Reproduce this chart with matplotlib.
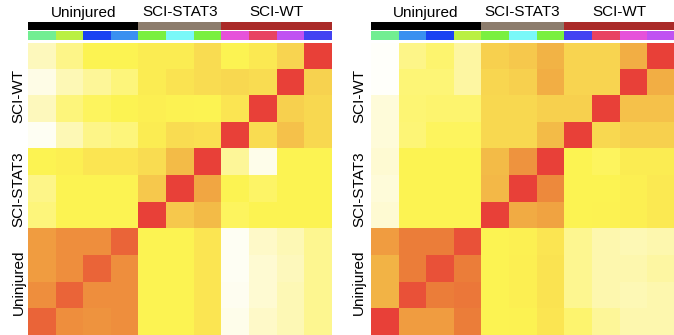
import numpy as np
import matplotlib
matplotlib.use("Agg")
import matplotlib.pyplot as plt
from matplotlib.colors import LinearSegmentedColormap, ListedColormap

plt.rcParams['font.family'] = ['Liberation Sans', 'DejaVu Sans']

# groups (left to right on top, bottom to top on the side)
groups = ["Uninjured", "SCI-STAT3", "SCI-WT"]
group_sizes = [4, 3, 4]
group_colors = ["#000000", "#8C7C6C", "#AA2A28"]

# per-sample colour strips
left_samples = ["#72EE92", "#BAF042", "#1A42F2", "#3A90F0",
                "#7AF040", "#7AF8F8", "#7AF040",
                "#E652DA", "#E84262", "#C052F2", "#4242F2"]
right_samples = ["#72EE92", "#3A90F0", "#1A42F2", "#BAF042",
                 "#7AF040", "#7AF8F8", "#7AF040",
                 "#4242F2", "#E84262", "#E652DA", "#C052F2"]

# similarity values, rows listed top to bottom
left_corr = [
    [0.18, 0.32, 0.45, 0.45, 0.50, 0.50, 0.60, 0.45, 0.52, 0.64, 1.00],
    [0.06, 0.20, 0.28, 0.35, 0.50, 0.56, 0.60, 0.62, 0.60, 1.00, 0.65],
    [0.18, 0.35, 0.42, 0.45, 0.48, 0.46, 0.45, 0.55, 1.00, 0.66, 0.62],
    [0.02, 0.20, 0.32, 0.35, 0.50, 0.60, 0.58, 1.00, 0.60, 0.70, 0.62],
    [0.45, 0.48, 0.55, 0.55, 0.60, 0.72, 1.00, 0.28, 0.05, 0.45, 0.45],
    [0.32, 0.45, 0.45, 0.45, 0.68, 1.00, 0.77, 0.45, 0.40, 0.45, 0.45],
    [0.35, 0.45, 0.45, 0.45, 1.00, 0.68, 0.72, 0.42, 0.45, 0.45, 0.45],
    [0.80, 0.83, 0.83, 0.92, 0.45, 0.45, 0.55, 0.02, 0.15, 0.20, 0.30],
    [0.80, 0.83, 0.92, 0.83, 0.45, 0.45, 0.55, 0.02, 0.12, 0.18, 0.30],
    [0.83, 0.92, 0.83, 0.83, 0.45, 0.45, 0.55, 0.03, 0.12, 0.20, 0.30],
    [0.92, 0.83, 0.82, 0.83, 0.45, 0.45, 0.55, 0.05, 0.15, 0.20, 0.30],
]
right_corr = [
    [0.00, 0.32, 0.38, 0.25, 0.66, 0.68, 0.74, 0.64, 0.64, 0.75, 1.00],
    [0.00, 0.36, 0.36, 0.25, 0.63, 0.66, 0.75, 0.64, 0.64, 1.00, 0.75],
    [0.10, 0.37, 0.38, 0.38, 0.62, 0.62, 0.66, 0.66, 1.00, 0.70, 0.70],
    [0.10, 0.36, 0.42, 0.42, 0.62, 0.62, 0.72, 1.00, 0.62, 0.66, 0.66],
    [0.12, 0.45, 0.45, 0.45, 0.72, 0.82, 1.00, 0.45, 0.42, 0.50, 0.50],
    [0.10, 0.45, 0.45, 0.45, 0.73, 1.00, 0.84, 0.45, 0.45, 0.48, 0.52],
    [0.12, 0.45, 0.45, 0.45, 1.00, 0.76, 0.78, 0.45, 0.46, 0.48, 0.52],
    [0.80, 0.87, 0.87, 0.96, 0.45, 0.47, 0.55, 0.30, 0.22, 0.20, 0.22],
    [0.74, 0.87, 0.96, 0.87, 0.45, 0.48, 0.56, 0.30, 0.22, 0.22, 0.25],
    [0.74, 0.96, 0.87, 0.88, 0.45, 0.48, 0.56, 0.30, 0.22, 0.20, 0.22],
    [1.00, 0.80, 0.80, 0.87, 0.45, 0.46, 0.55, 0.38, 0.28, 0.22, 0.22],
]

cmap = LinearSegmentedColormap.from_list("wyr", [
    (0.00, "#FFFFFA"), (0.15, "#FEF9C8"), (0.30, "#FDF690"),
    (0.45, "#FDF452"), (0.55, "#FBE552"), (0.65, "#F8D350"),
    (0.72, "#F4BC48"), (0.80, "#F09C40"), (0.87, "#EC7E3A"),
    (0.93, "#EA6038"), (1.00, "#E84038")])

W, H = 674, 335
fig = plt.figure(figsize=(W / 100, H / 100), dpi=100)


def px_axes(x0, y_top, w, h):
    # pixel box measured from the top-left corner
    return fig.add_axes([x0 / W, 1 - (y_top + h) / H, w / W, h / H])


def draw_panel(x0, corr, sample_cols, label_x):
    n = len(sample_cols)
    cw = 27.62
    width = cw * n

    # group bar
    ax_g = px_axes(x0, 21.7, width, 8.8)
    gidx = np.repeat(np.arange(len(groups)), group_sizes)
    ax_g.imshow(gidx[None, :], cmap=ListedColormap(group_colors), aspect='auto',
                interpolation='nearest', vmin=-0.5, vmax=len(groups) - 0.5)
    ax_g.axis('off')

    # sample bar
    ax_s = px_axes(x0, 30.5, width, 9.5)
    ax_s.imshow(np.arange(n)[None, :], cmap=ListedColormap(sample_cols), aspect='auto',
                interpolation='nearest', vmin=-0.5, vmax=n - 0.5)
    ax_s.axis('off')

    # heatmap
    ax_h = px_axes(x0, 42.7, width, 26.6 * n)
    ax_h.imshow(np.array(corr), cmap=cmap, vmin=0, vmax=1, aspect='auto',
                interpolation='nearest')
    ax_h.axis('off')

    # group names on top
    start = 0
    for name, size in zip(groups, group_sizes):
        cx = x0 + cw * (start + size / 2)
        fig.text(cx / W, 1 - 12.5 / H, name, ha='center', va='center', fontsize=11)
        start += size

    # group names on the side (top to bottom: reversed)
    start = 0
    for name, size in zip(groups[::-1], group_sizes[::-1]):
        cy = 42.7 + 26.6 * (start + size / 2)
        fig.text(label_x / W, 1 - cy / H, name, ha='center', va='center',
                 rotation=90, fontsize=11)
        start += size


draw_panel(28.3, left_corr, left_samples, 18.5)
draw_panel(370.7, right_corr, right_samples, 359)

fig.savefig("out.png", dpi=100)
